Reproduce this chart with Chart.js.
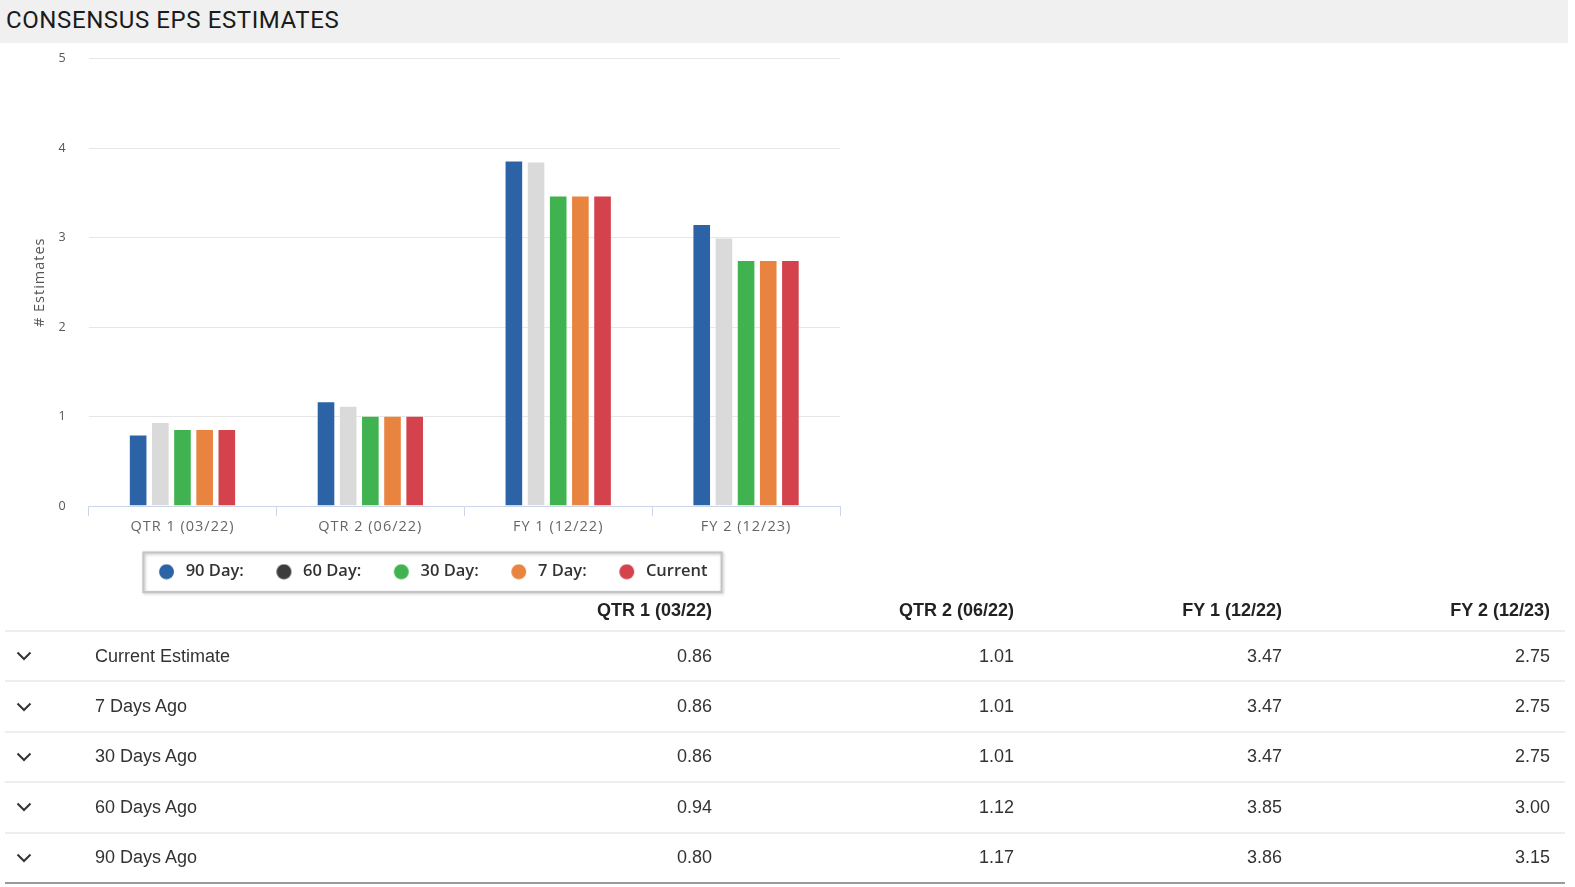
<!DOCTYPE html>
<html>
<head>
<meta charset="utf-8">
<script src="https://cdn.jsdelivr.net/npm/chart.js@4"></script>
<style>
  html, body { margin:0; padding:0; background:#fff; overflow:hidden; }
  body { position:relative; width:1575px; height:887px; font-family:"Liberation Sans", Arial, sans-serif; }
  #hdr { position:absolute; left:0; top:0; width:1568px; height:43px; background:#f0f0f0; }
  #hdr span { position:absolute; left:6px; top:6px; font-family:Roboto, sans-serif; font-size:24px; letter-spacing:0.6px; color:#1b1b1b; font-weight:400; }
  #chartWrap { position:absolute; left:0; top:29px; width:859px; height:571px; }
  #tbl { position:absolute; left:5px; top:591px; width:1560px; border-collapse:collapse; table-layout:fixed; }
  #tbl td, #tbl th { padding:0; font-size:18px; color:#333; }
  #tbl th { height:39px; font-weight:bold; text-align:right; color:#222; vertical-align:middle; }
  #tbl tr.r td { height:48.4px; border-top:2px solid #eeeeee; vertical-align:middle; }
  #tbl tr.r:last-child td { border-bottom:2px solid #9a9a9a; }
  #tbl td.num { text-align:right; }
  #tbl td.lbl { padding-left:10px; }
  .chev { display:block; margin-left:11px; width:16px; height:10px; }
</style>
</head>
<body>
<div id="hdr"><span>CONSENSUS EPS ESTIMATES</span></div>
<div id="chartWrap"><canvas id="c"></canvas></div>
<table id="tbl">
  <colgroup>
    <col style="width:80px"><col style="width:320px"><col style="width:307px"><col style="width:302px"><col style="width:268px"><col style="width:268px"><col style="width:15px">
  </colgroup>
  <thead><tr id="thead"></tr></thead>
  <tbody id="tbody"></tbody>
</table>
<script>
const categories = ["QTR 1 (03/22)", "QTR 2 (06/22)", "FY 1 (12/22)", "FY 2 (12/23)"];
const day90   = [0.80, 1.17, 3.86, 3.15];
const day60   = [0.94, 1.12, 3.85, 3.00];
const day30   = [0.86, 1.01, 3.47, 2.75];
const day7    = [0.86, 1.01, 3.47, 2.75];
const current = [0.86, 1.01, 3.47, 2.75];
const seriesNames = ["90 Day:", "60 Day:", "30 Day:", "7 Day:", "Current"];
const rowLabels = ["Current Estimate", "7 Days Ago", "30 Days Ago", "60 Days Ago", "90 Days Ago"];
const yTicks = [0, 1, 2, 3, 4, 5];

// Table
const thead = document.getElementById('thead');
thead.innerHTML = '<th></th><th></th>' + categories.map(c => '<th>' + c + '</th>').join('') + '<th></th>';
const rowData = [current, day7, day30, day60, day90];
const tbody = document.getElementById('tbody');
const chev = '<svg class="chev" viewBox="0 0 16 10"><polyline points="1.5,1.5 8,8 14.5,1.5" fill="none" stroke="#333" stroke-width="2"/></svg>';
rowLabels.forEach((lbl, i) => {
  const tr = document.createElement('tr');
  tr.className = 'r';
  tr.innerHTML = '<td>' + chev + '</td><td class="lbl">' + lbl + '</td>' +
    rowData[i].map(v => '<td class="num">' + v.toFixed(2) + '</td>').join('') + '<td></td>';
  tbody.appendChild(tr);
});

// Chart
const barColors = ["#2c63a6", "#dadada", "#40b350", "#e8843f", "#d4424b"];
const legendColors = ["#2c63a6", "#3c3c3e", "#40b350", "#e8843f", "#d4424b"];
const seriesData = [day90, day60, day30, day7, current];

function dotImage(color) {
  const cv = document.createElement('canvas');
  cv.width = 30; cv.height = 16;
  const g = cv.getContext('2d');
  g.fillStyle = color;
  g.beginPath();
  g.arc(16.6, 8, 7.5, 0, Math.PI * 2);
  g.fill();
  return cv;
}
const dots = legendColors.map(dotImage);

function withSpacing(chart, fn) {
  return function (...args) {
    const ctx = chart.ctx;
    ctx.save();
    ctx.letterSpacing = '1px';
    fn.apply(this, args);
    ctx.restore();
  };
}

const legendBox = {
  id: 'legendBox',
  afterLayout(chart) {
    ['x', 'y'].forEach(id => {
      const s = chart.scales[id];
      if (s && !s._lsWrapped) {
        s.drawLabels = withSpacing(chart, s.drawLabels);
        s.drawTitle = withSpacing(chart, s.drawTitle);
        s._lsWrapped = true;
      }
    });
  },
  afterDraw(chart) {
    const hb = chart.legend && chart.legend.legendHitBoxes;
    if (!hb || !hb.length) return;
    let l = Infinity, r = -Infinity, t = Infinity, b = -Infinity;
    hb.forEach(h => { l = Math.min(l, h.left); r = Math.max(r, h.left + h.width); t = Math.min(t, h.top); b = Math.max(b, h.top + h.height); });
    const ctx = chart.ctx;
    ctx.save();
    ctx.shadowColor = 'rgba(0,0,0,0.25)';
    ctx.shadowBlur = 3;
    ctx.shadowOffsetX = 1;
    ctx.shadowOffsetY = 1;
    ctx.strokeStyle = '#c4c4c4';
    ctx.lineWidth = 2;
    ctx.strokeRect(l - 9, t - 11, (r - l) + 23, (b - t) + 23);
    ctx.restore();
  }
};

new Chart(document.getElementById('c'), {
  type: 'bar',
  data: {
    labels: categories,
    datasets: seriesNames.map((n, i) => ({
      label: n,
      data: seriesData[i],
      backgroundColor: barColors[i],
      borderColor: 'rgba(255,255,255,0.35)',
      borderWidth: 1,
      barPercentage: 0.84,
      categoryPercentage: 0.59
    }))
  },
  options: {
    responsive: true,
    maintainAspectRatio: false,
    animation: false,
    layout: { padding: { top: 8, right: 19, bottom: 10, left: 20 } },
    plugins: {
      tooltip: { enabled: false },
      legend: {
        position: 'bottom',
        labels: {
          usePointStyle: true,
          pointStyleWidth: 25,
          boxWidth: 16,
          boxHeight: 16,
          padding: 26,
          color: '#333',
          font: { family: '"Open Sans", sans-serif', size: 16.5, weight: '600' },
          generateLabels(chart) {
            return chart.data.datasets.map((ds, i) => ({
              text: ds.label,
              fillStyle: legendColors[i],
              strokeStyle: legendColors[i],
              lineWidth: 0,
              pointStyle: dots[i],
              hidden: false,
              datasetIndex: i,
              fontColor: '#333'
            }));
          }
        }
      }
    },
    scales: {
      x: {
        grid: { display: true, drawOnChartArea: false, drawTicks: true, tickLength: 10, color: '#ccd6eb', offset: true },
        border: { display: true, color: '#ccd6eb', width: 1 },
        ticks: { color: '#666', font: { family: '"Open Sans", sans-serif', size: 14.5 }, padding: 2 }
      },
      y: {
        min: 0, max: 5,
        afterBuildTicks(axis) { axis.ticks = yTicks.map(v => ({ value: v })); },
        grid: { color: '#e6e6e6', drawTicks: false, lineWidth: 1 },
        border: { display: false },
        ticks: { color: '#555', font: { family: '"Open Sans", sans-serif', size: 12.5 }, padding: 22 },
        title: { display: true, text: '# Estimates', color: '#555', font: { family: '"Open Sans", sans-serif', size: 14.5 }, padding: { top: 11, bottom: -11 } }
      }
    }
  },
  plugins: [legendBox]
});
</script>
</body>
</html>
